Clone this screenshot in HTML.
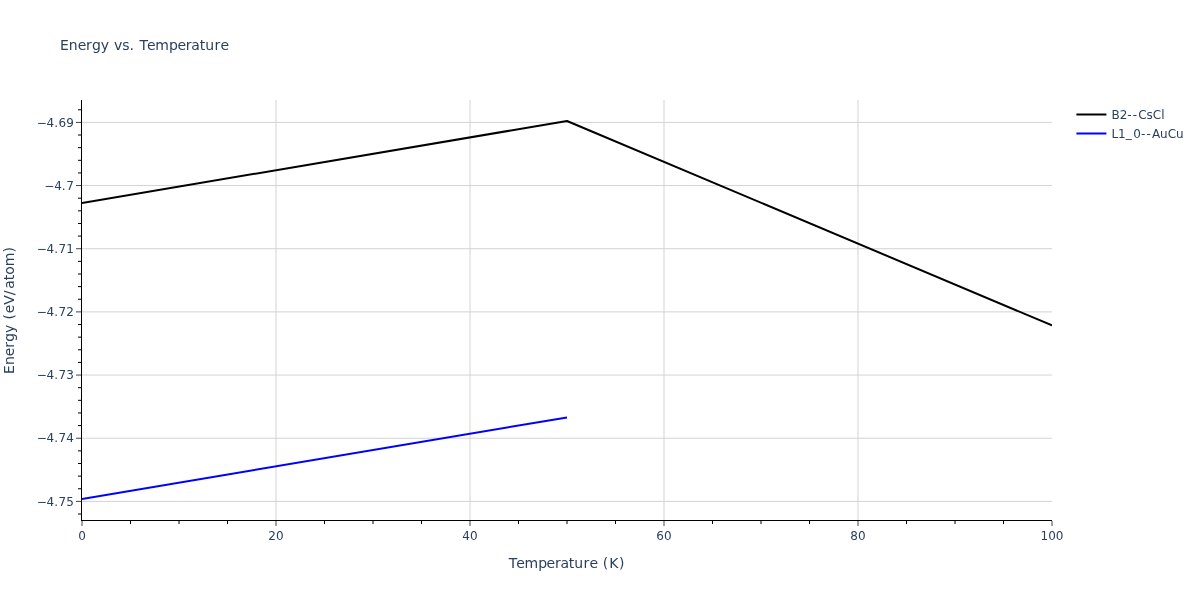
<!DOCTYPE html>
<html lang="en">
<head>
<meta charset="utf-8">
<title>Energy vs. Temperature</title>
<style>html,body{margin:0;padding:0;background:#fff;}body{width:1200px;height:600px;overflow:hidden;}svg{will-change:transform;}svg text{font-family:"DejaVu Sans","Liberation Sans",sans-serif;white-space:pre;}</style>
</head>
<body>
<svg width="1200" height="600" viewBox="0 0 1200 600" style="display:block">
<rect x="0" y="0" width="1200" height="600" fill="#fff"/>
<g stroke="#d3d3d3" stroke-width="1" fill="none">
<path d="M276.00,100.0V520.0"/>
<path d="M470.00,100.0V520.0"/>
<path d="M664.00,100.0V520.0"/>
<path d="M858.00,100.0V520.0"/>
<path d="M82.0,122.40H1052.0"/>
<path d="M82.0,185.56H1052.0"/>
<path d="M82.0,248.73H1052.0"/>
<path d="M82.0,311.89H1052.0"/>
<path d="M82.0,375.05H1052.0"/>
<path d="M82.0,438.22H1052.0"/>
<path d="M82.0,501.38H1052.0"/>
</g>
<clipPath id="clip"><rect x="82.0" y="100.0" width="970.0" height="420.0"/></clipPath>
<g clip-path="url(#clip)" fill="none" stroke-width="2" stroke-linejoin="round" stroke-linecap="butt">
<path d="M82.00,203.00L567.00,121.00L1052.00,325.40" stroke="#000"/>
<path d="M82.00,499.00L567.00,417.40" stroke="#0000ff"/>
</g>
<g stroke="#444" stroke-width="1" fill="none">
<path d="M82.00,521.0v5"/>
<path d="M130.50,521.0v3" stroke="#000"/>
<path d="M179.00,521.0v3" stroke="#000"/>
<path d="M227.50,521.0v3" stroke="#000"/>
<path d="M276.00,521.0v5"/>
<path d="M324.50,521.0v3" stroke="#000"/>
<path d="M373.00,521.0v3" stroke="#000"/>
<path d="M421.50,521.0v3" stroke="#000"/>
<path d="M470.00,521.0v5"/>
<path d="M518.50,521.0v3" stroke="#000"/>
<path d="M567.00,521.0v3" stroke="#000"/>
<path d="M615.50,521.0v3" stroke="#000"/>
<path d="M664.00,521.0v5"/>
<path d="M712.50,521.0v3" stroke="#000"/>
<path d="M761.00,521.0v3" stroke="#000"/>
<path d="M809.50,521.0v3" stroke="#000"/>
<path d="M858.00,521.0v5"/>
<path d="M906.50,521.0v3" stroke="#000"/>
<path d="M955.00,521.0v3" stroke="#000"/>
<path d="M1003.50,521.0v3" stroke="#000"/>
<path d="M1052.00,521.0v5"/>
<path d="M81.0,514.01h-3" stroke="#000"/>
<path d="M81.0,501.38h-5"/>
<path d="M81.0,488.75h-3" stroke="#000"/>
<path d="M81.0,476.11h-3" stroke="#000"/>
<path d="M81.0,463.48h-3" stroke="#000"/>
<path d="M81.0,450.85h-3" stroke="#000"/>
<path d="M81.0,438.22h-5"/>
<path d="M81.0,425.58h-3" stroke="#000"/>
<path d="M81.0,412.95h-3" stroke="#000"/>
<path d="M81.0,400.32h-3" stroke="#000"/>
<path d="M81.0,387.69h-3" stroke="#000"/>
<path d="M81.0,375.05h-5"/>
<path d="M81.0,362.42h-3" stroke="#000"/>
<path d="M81.0,349.79h-3" stroke="#000"/>
<path d="M81.0,337.16h-3" stroke="#000"/>
<path d="M81.0,324.52h-3" stroke="#000"/>
<path d="M81.0,311.89h-5"/>
<path d="M81.0,299.26h-3" stroke="#000"/>
<path d="M81.0,286.62h-3" stroke="#000"/>
<path d="M81.0,273.99h-3" stroke="#000"/>
<path d="M81.0,261.36h-3" stroke="#000"/>
<path d="M81.0,248.73h-5"/>
<path d="M81.0,236.09h-3" stroke="#000"/>
<path d="M81.0,223.46h-3" stroke="#000"/>
<path d="M81.0,210.83h-3" stroke="#000"/>
<path d="M81.0,198.20h-3" stroke="#000"/>
<path d="M81.0,185.56h-5"/>
<path d="M81.0,172.93h-3" stroke="#000"/>
<path d="M81.0,160.30h-3" stroke="#000"/>
<path d="M81.0,147.67h-3" stroke="#000"/>
<path d="M81.0,135.03h-3" stroke="#000"/>
<path d="M81.0,122.40h-5"/>
<path d="M81.0,109.77h-3" stroke="#000"/>
</g>
<path d="M81.0,520.5H1052.0" stroke="#000" stroke-width="1" fill="none"/>
<path d="M81.5,100.0V521.0" stroke="#000" stroke-width="1" fill="none"/>
<g fill="#2a3f5f" font-size="12px">
<text x="78.18" y="540.00" font-size="12px">0</text>
<text x="268.37 276.00" y="540.00" font-size="12px">20</text>
<text x="462.37 470.00" y="540.00" font-size="12px">40</text>
<text x="656.37 664.00" y="540.00" font-size="12px">60</text>
<text x="850.37 858.00" y="540.00" font-size="12px">80</text>
<text x="1040.55 1048.18 1055.82" y="540.00" font-size="12px">100</text>
<text x="36.72 46.54 54.17 58.54 66.17" y="126.60" font-size="12px">−4.69</text>
<text x="44.35 54.17 61.80 66.17" y="189.76" font-size="12px">−4.7</text>
<text x="36.72 46.54 54.17 58.54 66.17" y="252.93" font-size="12px">−4.71</text>
<text x="36.72 46.54 54.17 58.54 66.17" y="316.09" font-size="12px">−4.72</text>
<text x="36.72 46.54 54.17 58.54 66.17" y="379.25" font-size="12px">−4.73</text>
<text x="36.72 46.54 54.17 58.54 66.17" y="442.42" font-size="12px">−4.74</text>
<text x="36.72 46.54 54.17 58.54 66.17" y="505.58" font-size="12px">−4.75</text>
</g>
<text x="60.00 68.85 77.71 86.05 92.03 100.75 109.04 113.97 122.26 129.55 134.65 139.58 147.01 155.35 168.98 177.40 185.75 191.22 199.64 205.15 214.43 220.41" y="50.00" font-size="14px" fill="#2a3f5f">Energy vs. Temperature</text>
<text x="508.74 516.17 524.52 538.14 546.57 554.91 560.39 568.80 574.32 583.60 589.58 597.92 602.85 609.20 618.91" y="568.00" font-size="14px" fill="#2a3f5f">Temperature (K)</text>
<g transform="translate(14,310.0) rotate(-90)"><text x="-64.01 -55.09 -46.16 -37.75 -31.72 -22.93 -14.58 -9.61 -3.20 5.21 14.86 21.27 29.75 35.31 43.87 57.61" y="0.00" font-size="14px" fill="#2a3f5f">Energy (eV/atom)</text></g>
<g fill="none" stroke-width="2">
<path d="M1076.40,114.5h30" stroke="#000"/>
<path d="M1076.40,133.5h30" stroke="#0000ff"/>
</g>
<g fill="#2a3f5f" font-size="12px">
<text x="1111.40 1119.63 1127.26 1132.71 1138.16 1146.54 1152.79 1161.16" y="119.18" font-size="12px">B2--CsCl</text>
<text x="1111.40 1118.08 1125.72 1133.35 1140.98 1146.43 1151.88 1160.08 1167.68 1176.06" y="138.18" dy="0 0 -0.9 0.9 0 0 0 0 0 0" font-size="12px">L1_0--AuCu</text>
</g>
</svg>
</body>
</html>
